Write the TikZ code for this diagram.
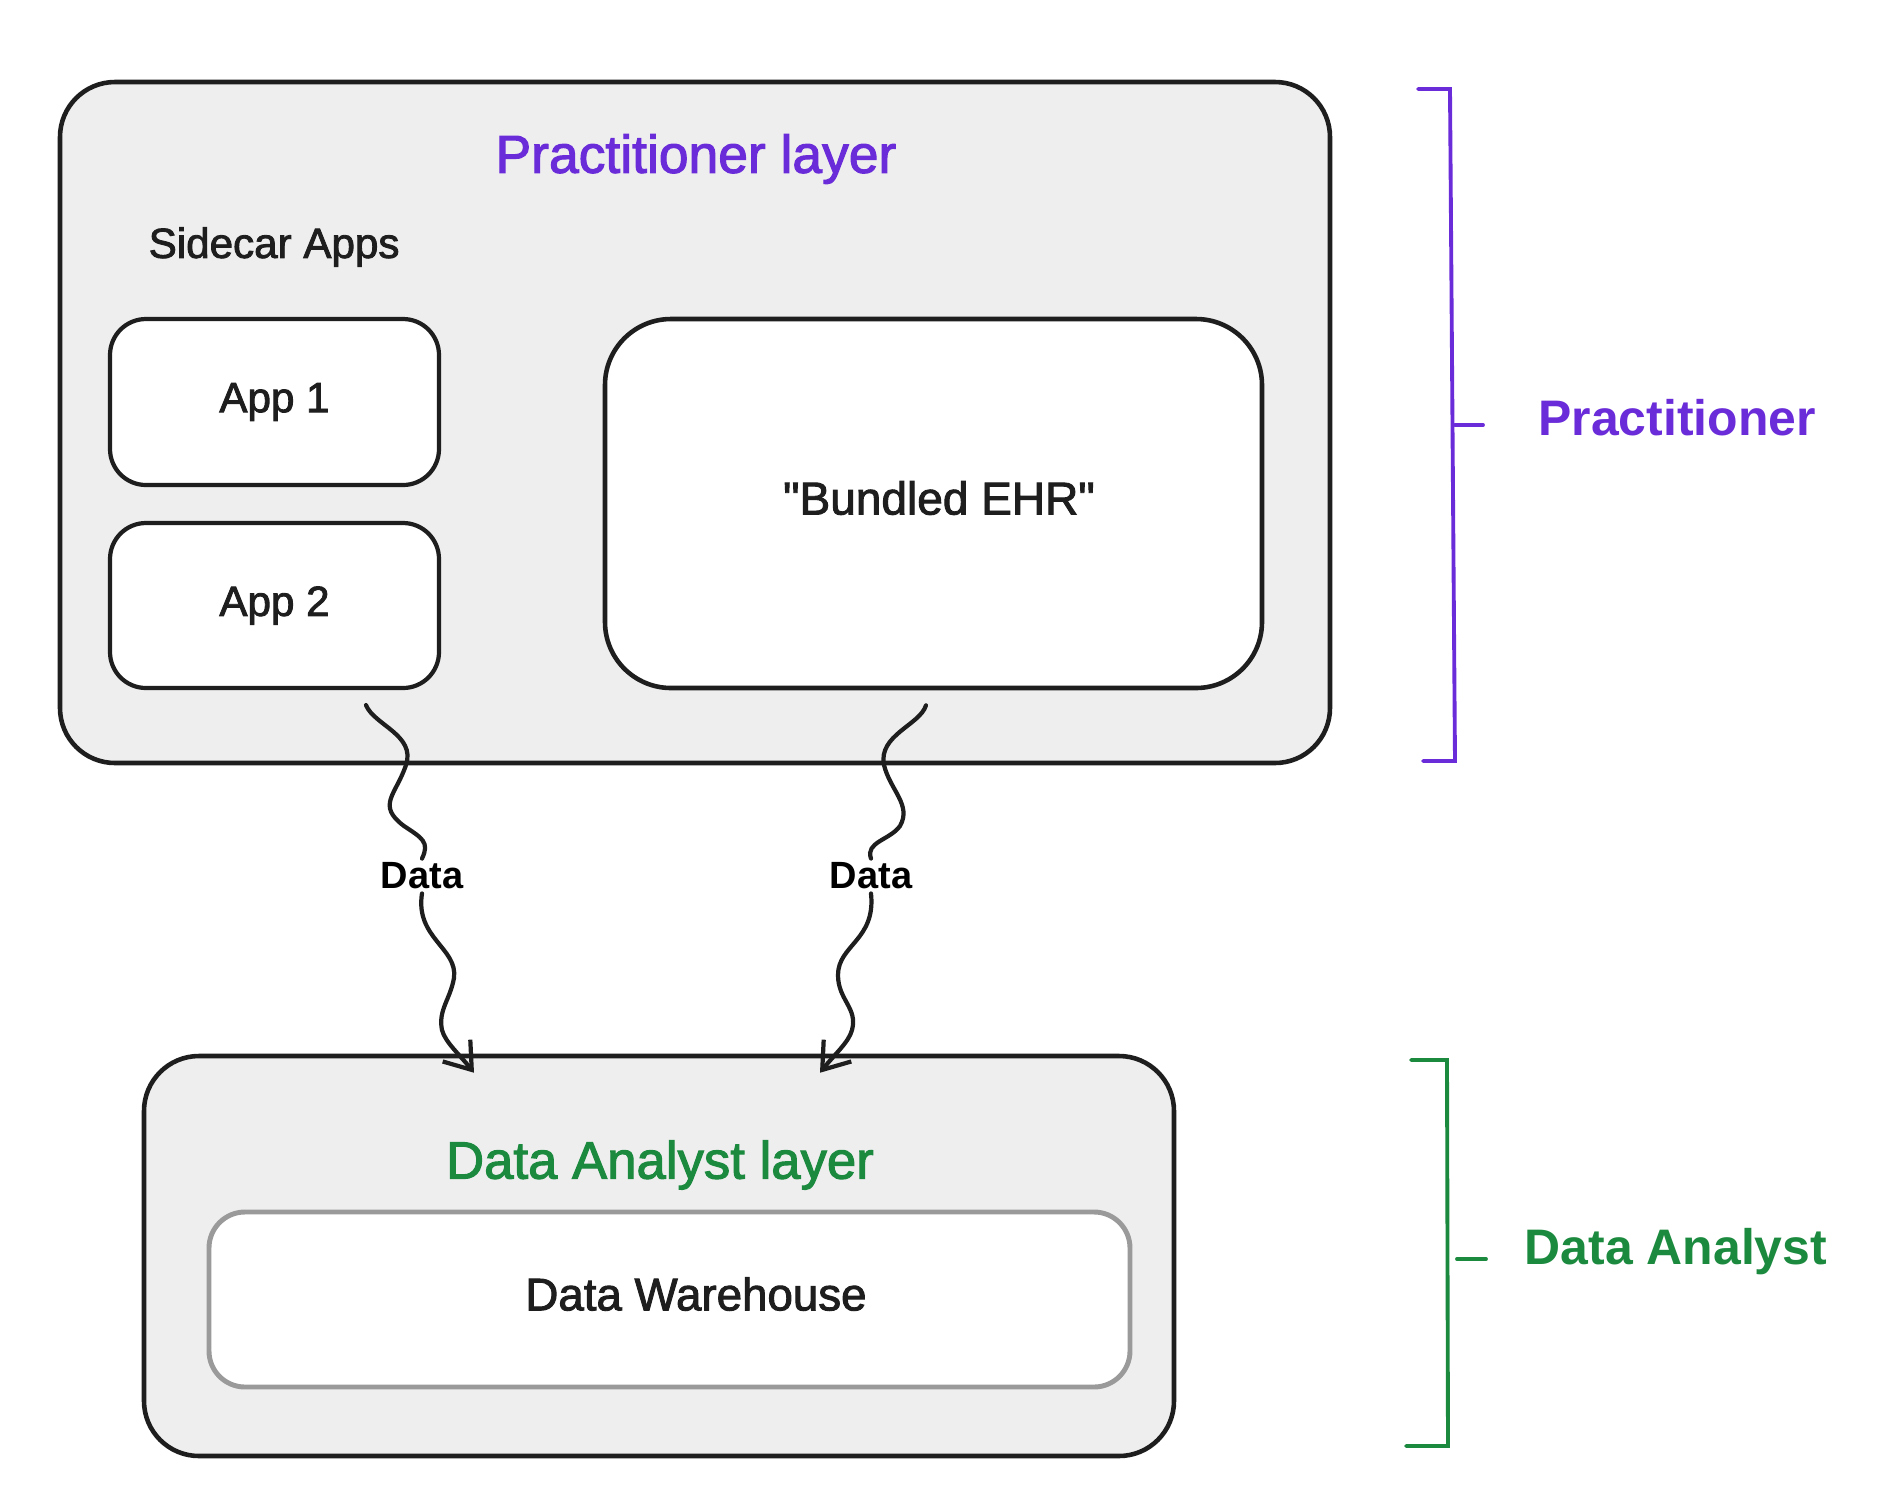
\documentclass[tikz,border=0pt]{standalone}
\usepackage{fontspec}
\setmainfont{Liberation Sans}
\newfontfamily\medfont{Liberation Sans}[FakeBold=2]
\usetikzlibrary{arrows.meta,calc}
\definecolor{pur}{HTML}{6A2BD9}
\definecolor{grn}{HTML}{1B8A3F}
\definecolor{ink}{HTML}{1E1E1E}
\definecolor{layerfill}{HTML}{EEEEEE}
\definecolor{dwline}{HTML}{9A9A9A}
\tikzset{
  layerbox/.style={draw=ink, line width=1.3pt, fill=layerfill, rounded corners=0.55cm, inner sep=0pt},
  appbox/.style={draw=ink, line width=1.2pt, fill=white, rounded corners=0.36cm, inner sep=0pt, font=\medfont\fontsize{12}{14}\selectfont, text=ink},
  dwbox/.style={draw=dwline, line width=1.4pt, fill=white, rounded corners=0.36cm, inner sep=0pt},
  datalbl/.style={font=\bfseries\fontsize{10.8}{12}\selectfont, text=black, inner sep=1pt},
  wave/.style={draw=ink, line width=1.2pt, line cap=round},
  wavearrow/.style={wave, -{Straight Barb[length=7pt,width=10pt,line width=1.2pt]}},
  brk/.style={line width=1.1pt, line cap=round}
}
\begin{document}
\begin{tikzpicture}
\useasboundingbox[fill=white] (0,0) rectangle (18.81,-15);
% layer boxes
\node[layerbox, minimum width=12.70cm, minimum height=6.81cm] (prac) at (6.95,-4.225) {};
\node[layerbox, minimum width=10.30cm, minimum height=4.00cm] (da) at (6.59,-12.56) {};
% titles
\node[text=pur, font=\medfont\fontsize{15.2}{18}\selectfont] (ptitle) at (6.96,-1.59) {Practitioner layer};
\node[text=ink, font=\medfont\fontsize{12}{14}\selectfont, anchor=west, inner sep=0pt] (side) at (1.48,-2.47) {Sidecar Apps};
\node[text=grn, font=\medfont\fontsize{15}{18}\selectfont] (datitle) at (6.60,-11.65) {Data Analyst layer};
% inner boxes
\node[appbox, minimum width=3.29cm, minimum height=1.66cm] (app1) at (2.745,-4.02) {App 1};
\node[appbox, minimum width=3.29cm, minimum height=1.65cm] (app2) at (2.745,-6.055) {App 2};
\node[appbox, line width=1.3pt, rounded corners=0.66cm, minimum width=6.57cm, minimum height=3.69cm] (ehr) at (9.335,-5.035) {};
\node[text=ink, font=\medfont\fontsize{13.1}{16}\selectfont] (ehrl) at (9.39,-4.98) {\symbol{34}Bundled EHR\symbol{34}};
\node[dwbox, minimum width=9.21cm, minimum height=1.75cm] (dw) at (6.695,-12.995) {};
\node[text=ink, font=\medfont\fontsize{13}{16}\selectfont] (dwl) at (6.96,-12.94) {Data Warehouse};
% data labels
\node[datalbl] (d1) at (4.22,-8.76) {Data};
\node[datalbl] (d2) at (8.71,-8.76) {Data};
% wavy connectors
\coordinate (s1) at ($(app2.south)+(0.915,-0.15)$);
\coordinate (s2) at ($(ehr.south)+(-0.075,-0.15)$);
\coordinate (t1) at ($(da.north)+(-1.85,-0.19)$);
\coordinate (t2) at ($(da.north)+(1.61,-0.19)$);
\draw[wave] (s1) .. controls (3.74,-7.25) and (4.16,-7.35) .. (4.06,-7.65)
  .. controls (3.96,-7.95) and (3.76,-8.05) .. (4.04,-8.26)
  .. controls (4.22,-8.38) and (4.30,-8.42) .. (d1.north);
\draw[wavearrow] (d1.south) .. controls (4.15,-9.38) and (4.58,-9.48) .. (4.54,-9.78)
  .. controls (4.50,-10.00) and (4.38,-10.10) .. (4.42,-10.30)
  .. controls (4.45,-10.42) and (4.60,-10.55) .. (t1);
\draw[wave] (s2) .. controls (9.20,-7.25) and (8.78,-7.35) .. (8.84,-7.65)
  .. controls (8.90,-7.90) and (9.12,-8.05) .. (9.00,-8.26)
  .. controls (8.90,-8.40) and (8.65,-8.42) .. (d2.north);
\draw[wavearrow] (d2.south) .. controls (8.76,-9.40) and (8.38,-9.45) .. (8.38,-9.75)
  .. controls (8.38,-10.00) and (8.58,-10.08) .. (8.52,-10.30)
  .. controls (8.49,-10.42) and (8.34,-10.55) .. (t2);
% brackets
\draw[brk, draw=pur] (14.18,-0.89) -- (14.50,-0.89) -- (14.55,-7.61) -- (14.23,-7.61);
\draw[brk, draw=pur] (14.55,-4.25) -- (14.83,-4.25);
\draw[brk, draw=grn] (14.11,-10.60) -- (14.47,-10.60) -- (14.48,-14.46) -- (14.06,-14.46);
\draw[brk, draw=grn] (14.57,-12.59) -- (14.86,-12.59);
% bracket labels
\node[text=pur, font=\bfseries\fontsize{14.2}{17}\selectfont] (plab) at (16.77,-4.18) {Practitioner};
\node[text=grn, font=\bfseries\fontsize{14.2}{17}\selectfont] (dlab) at (16.76,-12.52) {Data Analyst};
\end{tikzpicture}
\end{document}
